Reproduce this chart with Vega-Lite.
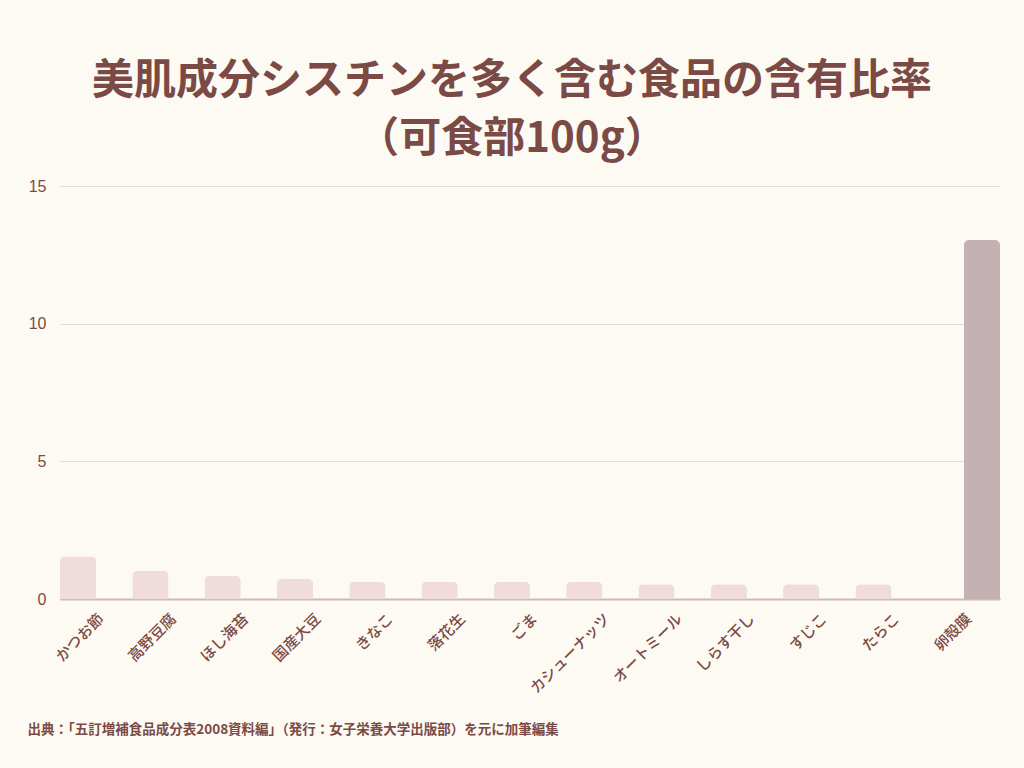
{
  "$schema": "https://vega.github.io/schema/vega-lite/v6.json",
  "width": 940,
  "height": 413,
  "autosize": {"type": "none"},
  "padding": {"left": 60, "top": 186, "right": 24, "bottom": 169},
  "background": "#fdfaf4",
  "title": {
    "text": ["美肌成分シスチンを多く含む食品の含有比率", "（可食部100g）"],
    "anchor": "middle",
    "dx": -18,
    "offset": 17,
    "font": "Noto Sans CJK JP",
    "fontSize": 42,
    "fontWeight": "bold",
    "color": "#7b4a44",
    "lineHeight": 58
  },
  "data": {
    "values": [
      {"food": "かつお節", "group": "a", "value": 1.54},
      {"food": "高野豆腐", "group": "a", "value": 1.03},
      {"food": "ほし海苔", "group": "a", "value": 0.84},
      {"food": "国産大豆", "group": "a", "value": 0.73},
      {"food": "きなこ", "group": "a", "value": 0.63},
      {"food": "落花生", "group": "a", "value": 0.63},
      {"food": "ごま", "group": "a", "value": 0.63},
      {"food": "カシューナッツ", "group": "a", "value": 0.63},
      {"food": "オートミール", "group": "a", "value": 0.54},
      {"food": "しらす干し", "group": "a", "value": 0.54},
      {"food": "すじこ", "group": "a", "value": 0.54},
      {"food": "たらこ", "group": "a", "value": 0.54},
      {"food": "卵殻膜", "group": "b", "value": 13.04}
    ]
  },
  "mark": {"type": "bar", "cornerRadiusTopLeft": 5, "cornerRadiusTopRight": 5},
  "encoding": {
    "x": {
      "field": "food",
      "type": "nominal",
      "sort": null,
      "scale": {"paddingInner": 0, "paddingOuter": 0},
      "axis": {
        "title": "出典：「五訂増補食品成分表2008資料編」（発行：女子栄養大学出版部）を元に加筆編集",
        "titleX": -33,
        "titleY": 130,
        "titleAlign": "left",
        "titleAnchor": "start",
        "titleBaseline": "middle",
        "titleFont": "Noto Sans CJK JP",
        "titleFontSize": 13.5,
        "titleFontWeight": "bold",
        "titleColor": "#7b4a44",
        "labelAngle": -45,
        "labelFont": "Noto Sans CJK JP",
        "labelFontSize": 15,
        "labelFontWeight": 500,
        "labelColor": "#7b4a44",
        "labelPadding": 12,
        "ticks": false,
        "domain": true,
        "domainColor": "#cdbab5",
        "domainWidth": 2,
        "grid": false
      }
    },
    "xOffset": {"field": "group", "type": "nominal", "scale": {"domain": ["a", "b"], "paddingInner": 0, "paddingOuter": 0}},
    "y": {
      "field": "value",
      "type": "quantitative",
      "scale": {"domain": [0, 15], "nice": false},
      "axis": {
        "title": null,
        "values": [0, 5, 10, 15],
        "labelFont": "Liberation Sans",
        "labelFontSize": 16,
        "labelColor": "#7b4a44",
        "labelPadding": 14,
        "ticks": false,
        "domain": false,
        "grid": true,
        "gridColor": "#e3dad5",
        "gridWidth": 1
      }
    },
    "color": {
      "field": "group",
      "type": "nominal",
      "scale": {"domain": ["a", "b"], "range": ["#f1dcdc", "#c5b1b4"]},
      "legend": null
    }
  },
  "config": {"view": {"stroke": null}}
}
